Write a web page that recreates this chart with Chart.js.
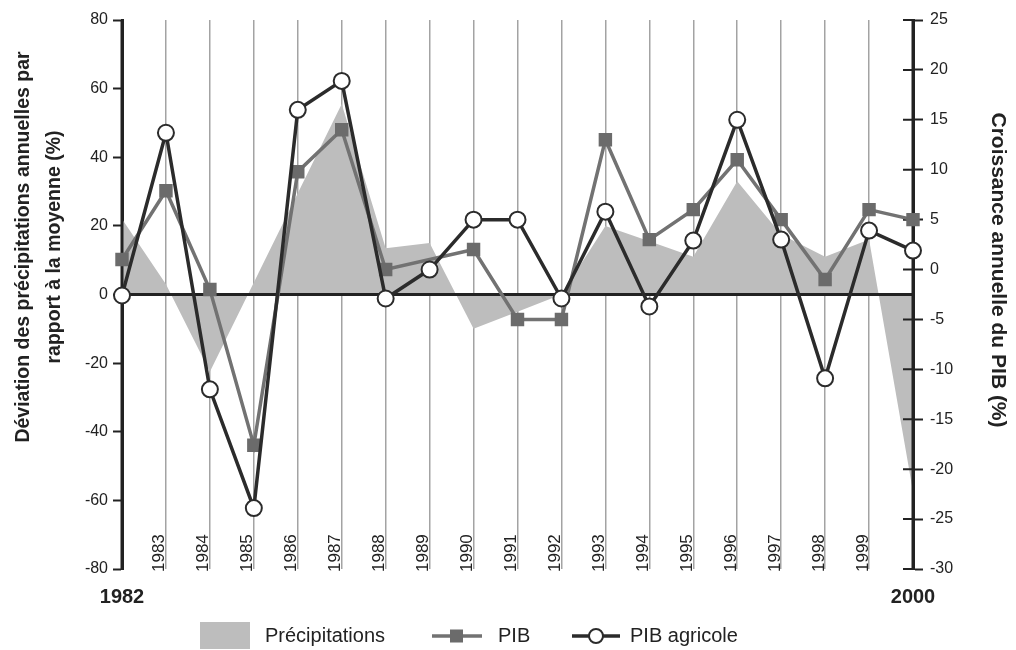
<!DOCTYPE html>
<html>
<head>
<meta charset="utf-8">
<script src="https://cdn.jsdelivr.net/npm/chart.js@4/dist/chart.umd.min.js"></script>
<style>
  body { margin: 0; background: #fff; }
</style>
</head>
<body>
<canvas id="graph" width="1016" height="650"></canvas>
<script>
// values
const years = ['1982', '1983', '1984', '1985', '1986', '1987', '1988', '1989', '1990', '1991',
  '1992', '1993', '1994', '1995', '1996', '1997', '1998', '1999', '2000'];
const precipitations = [22, 3, -22.5, 3.5, 29.5, 55.5, 13.5, 15, -10, -5, 0, 20, 15.5, 11, 33, 17.5, 11, 16, -57.5];
const pib = [1, 7.9, -2, -17.6, 9.8, 14, 0, null, 2, -5, -5, 13, 3, 6, 11, 5, -1, 6, 5];
const pibAgricole = [-2.6, 13.7, -12, -23.9, 16, 18.9, -2.9, 0, 5, 5, -2.9, 5.8, -3.7, 2.9, 15, 3, -10.9, 3.9, 1.9];
const leftTitle = ['Déviation des précipitations annuelles par', 'rapport à la moyenne (%)'];
const rightTitle = 'Croissance annuelle du PIB (%)';
const legendLabels = ['Précipitations', 'PIB', 'PIB agricole'];

const FONT = '"Liberation Sans", Arial, sans-serif';
const DARK = '#222';
const AREA = '#bdbdbd';
const GREY = '#727272';

// zero line + axis lines drawn right after the grey area, under the two lines
const overlay = {
  id: 'overlay',
  afterDatasetDraw(chart, args) {
    if (args.index !== 0) return;
    const ctx = chart.ctx;
    const a = chart.chartArea;
    const y0 = chart.scales.y.getPixelForValue(0);
    ctx.save();
    ctx.strokeStyle = DARK;
    ctx.lineWidth = 3;
    ctx.beginPath();
    ctx.moveTo(a.left, y0); ctx.lineTo(a.right, y0);
    ctx.moveTo(a.left, a.top); ctx.lineTo(a.left, a.bottom);
    ctx.moveTo(a.right, a.top); ctx.lineTo(a.right, a.bottom);
    ctx.stroke();
    // right axis ticks also go inside
    ctx.lineWidth = 2;
    ctx.beginPath();
    chart.scales.y1.ticks.forEach(t => {
      const y = chart.scales.y1.getPixelForValue(t.value);
      ctx.moveTo(a.right - 10, y); ctx.lineTo(a.right, y);
    });
    ctx.stroke();
    ctx.restore();
  },
  afterDraw(chart) {
    const ctx = chart.ctx;
    const a = chart.chartArea;
    const x = chart.scales.x;
    ctx.save();
    ctx.fillStyle = DARK;

    // year labels inside the plot, left of each grid line
    ctx.font = '17px ' + FONT;
    ctx.textAlign = 'left';
    ctx.textBaseline = 'alphabetic';
    for (let i = 1; i < years.length - 1; i++) {
      ctx.save();
      ctx.translate(x.getPixelForValue(i) - 1.5, a.bottom + 3);
      ctx.rotate(-Math.PI / 2);
      ctx.fillText(years[i], 0, 0);
      ctx.restore();
    }

    // first and last year under the axes
    ctx.font = 'bold 20px ' + FONT;
    ctx.textAlign = 'center';
    ctx.textBaseline = 'middle';
    ctx.fillText(years[0], a.left, 597);
    ctx.fillText(years[years.length - 1], a.right, 597);

    // axis titles
    ctx.save();
    ctx.font = 'bold 19.5px ' + FONT;
    ctx.translate(24, 247);
    ctx.rotate(-Math.PI / 2);
    ctx.fillText(leftTitle[0], 0, 0);
    ctx.fillText(leftTitle[1], 0, 31);
    ctx.restore();
    ctx.save();
    ctx.font = 'bold 21px ' + FONT;
    ctx.translate(998, 270);
    ctx.rotate(Math.PI / 2);
    ctx.fillText(rightTitle, 0, 0);
    ctx.restore();

    // legend
    const ly = 636;
    ctx.font = '20px ' + FONT;
    ctx.textAlign = 'left';
    ctx.fillStyle = AREA;
    ctx.fillRect(200, 622, 50, 27);
    ctx.fillStyle = DARK;
    ctx.fillText(legendLabels[0], 265, ly);

    ctx.strokeStyle = GREY;
    ctx.lineWidth = 3.5;
    ctx.beginPath();
    ctx.moveTo(432, ly); ctx.lineTo(482, ly);
    ctx.stroke();
    ctx.fillStyle = '#6b6b6b';
    ctx.fillRect(450, ly - 6.5, 13, 13);
    ctx.fillStyle = DARK;
    ctx.fillText(legendLabels[1], 498, ly);

    ctx.strokeStyle = '#2b2b2b';
    ctx.beginPath();
    ctx.moveTo(572, ly); ctx.lineTo(620, ly);
    ctx.stroke();
    ctx.beginPath();
    ctx.arc(596, ly, 7, 0, Math.PI * 2);
    ctx.fillStyle = '#fff';
    ctx.fill();
    ctx.lineWidth = 2;
    ctx.stroke();
    ctx.fillStyle = DARK;
    ctx.fillText(legendLabels[2], 630, ly);

    ctx.restore();
  }
};

new Chart(document.getElementById('graph'), {
  type: 'line',
  data: {
    labels: years,
    datasets: [{
      label: legendLabels[0],
      data: precipitations,
      yAxisID: 'y',
      fill: 'origin',
      backgroundColor: AREA,
      borderColor: 'transparent',
      borderWidth: 0,
      pointRadius: 0,
      order: 3
    }, {
      label: legendLabels[1],
      data: pib,
      yAxisID: 'y1',
      spanGaps: true,
      borderColor: GREY,
      borderWidth: 3.5,
      pointStyle: 'rect',
      pointRadius: 9.5,
      pointBackgroundColor: '#6b6b6b',
      pointBorderWidth: 0,
      order: 2
    }, {
      label: legendLabels[2],
      data: pibAgricole,
      yAxisID: 'y1',
      borderColor: '#2b2b2b',
      borderWidth: 3.5,
      pointStyle: 'circle',
      pointRadius: 8,
      pointBackgroundColor: '#fff',
      pointBorderColor: '#2b2b2b',
      pointBorderWidth: 2,
      order: 1
    }]
  },
  options: {
    responsive: false,
    animation: false,
    events: [],
    layout: { padding: { top: 20, right: 0, bottom: 0, left: 0 } },
    plugins: { legend: { display: false }, tooltip: { enabled: false } },
    scales: {
      x: {
        offset: false,
        ticks: { display: false },
        border: { display: false },
        grid: {
          drawTicks: false,
          lineWidth: 1.5,
          color: ctx => (ctx.index === 0 || ctx.index === years.length - 1) ? 'transparent' : '#a3a3a3'
        },
        afterFit: s => { s.height = 81; }
      },
      y: {
        position: 'left',
        min: -80,
        max: 80,
        ticks: { stepSize: 20, color: DARK, font: { size: 16, family: FONT }, padding: 5 },
        grid: { drawOnChartArea: false, tickLength: 9, tickColor: DARK, tickWidth: 2 },
        border: { color: DARK, width: 3 },
        afterFit: s => { s.width = 122; }
      },
      y1: {
        position: 'right',
        min: -30,
        max: 25,
        ticks: { stepSize: 5, color: DARK, font: { size: 16, family: FONT }, padding: 7 },
        grid: { drawOnChartArea: false, tickLength: 10, tickColor: DARK, tickWidth: 2 },
        border: { color: DARK, width: 3 },
        afterFit: s => { s.width = 103; }
      }
    }
  },
  plugins: [overlay]
});
</script>
</body>
</html>
